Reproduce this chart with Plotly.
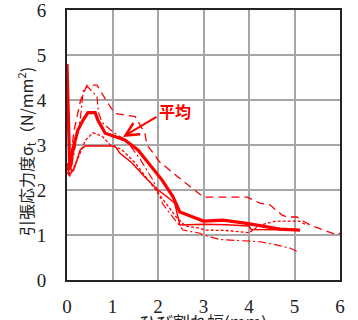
import plotly.graph_objects as go

# Average (thick solid)
avg_x = [0, 0.06, 0.15, 0.24, 0.35, 0.46, 0.62, 0.68, 0.84, 1.27, 1.56, 1.78, 2.09, 2.33, 2.48, 3.0, 3.43, 3.95, 4.3, 4.68, 5.12]
avg_y = [4.8, 2.45, 3.0, 3.33, 3.55, 3.72, 3.72, 3.55, 3.26, 3.11, 2.89, 2.6, 2.22, 1.85, 1.51, 1.31, 1.33, 1.26, 1.2, 1.13, 1.11]

# Specimen A (thin solid)
a_x = [0, 0.06, 0.15, 0.29, 0.4, 0.6, 1.05, 1.16, 1.43, 1.71, 2.0, 2.2, 2.37, 2.48, 3.0, 3.5, 4.0, 4.05, 5.12]
a_y = [2.5, 2.35, 2.45, 2.89, 2.98, 2.98, 2.98, 2.82, 2.6, 2.29, 2.0, 1.85, 1.7, 1.22, 1.24, 1.23, 1.2, 1.12, 1.11]

# Specimen B (long dash, highest)
b_x = [0, 0.05, 0.15, 0.3, 0.44, 0.66, 0.88, 1.05, 1.5, 1.71, 1.76, 2.04, 2.44, 2.92, 3.0, 3.96, 4.24, 4.46, 4.73, 4.84, 5.05, 5.34, 5.93, 6.05]
b_y = [2.6, 2.4, 3.3, 4.0, 4.33, 4.33, 3.96, 3.7, 3.63, 3.26, 3.0, 2.62, 2.29, 1.89, 1.84, 1.84, 1.71, 1.67, 1.44, 1.4, 1.4, 1.22, 1.0, 1.07]

# Specimen C (short dash)
c_x = [0, 0.06, 0.2, 0.4, 0.57, 0.77, 0.95, 1.2, 1.5, 1.8, 2.1, 2.4, 2.6, 2.92, 3.03, 3.5, 4.0, 4.24, 4.6, 5.1, 5.27]
c_y = [2.5, 2.35, 2.6, 3.1, 3.27, 3.2, 3.0, 2.9, 2.6, 2.2, 1.8, 1.4, 1.2, 1.15, 1.11, 1.1, 1.05, 1.22, 1.31, 1.31, 1.22]

# Specimen D (dash-dot)
d_x = [0, 0.06, 0.22, 0.29, 0.36, 0.45, 0.66, 0.69, 0.77, 1.0, 1.3, 1.6, 1.9, 2.1, 2.26, 2.55, 2.92, 3.0, 3.36, 4.24, 4.6, 4.9, 5.07]
d_y = [2.4, 2.3, 3.18, 3.56, 4.22, 4.3, 4.07, 3.73, 3.5, 3.3, 3.1, 2.7, 2.2, 1.7, 1.48, 1.11, 1.04, 1.0, 0.9, 0.85, 0.78, 0.71, 0.63]

x_ticks = [0, 1, 2, 3, 4, 5, 6]
y_ticks = [0, 1, 2, 3, 4, 5, 6]
x_title = "ひび割れ幅(mm)"
y_title = "引張応力度σ<sub>t</sub>（N/mm<sup>2</sup>)"
avg_label = "<b>平均</b>"

RED = "#ff0000"
fig = go.Figure()
for xs, ys, w, dash in [
    (a_x, a_y, 1.5, "solid"),
    (b_x, b_y, 1.3, "8px,5px"),
    (c_x, c_y, 1.3, "3px,2px"),
    (d_x, d_y, 1.2, "8px,3px,2px,3px"),
    (avg_x, avg_y, 3.2, "solid"),
]:
    fig.add_trace(go.Scatter(x=xs, y=ys, mode="lines",
                             line=dict(color=RED, width=w, dash=dash),
                             showlegend=False, hoverinfo="skip"))

serif = "Liberation Serif, DejaVu Serif, serif"
cjk = "Noto Sans CJK JP"
W, H, L, R, T, B = 358, 320, 67, 18, 10, 40
PW, PH = W - L - R, H - T - B
fig.update_layout(
    width=W, height=H,
    margin=dict(l=L, r=R, t=T, b=B),
    paper_bgcolor="white", plot_bgcolor="white",
    font=dict(family=serif, size=18, color="#222"),
    xaxis=dict(range=[0, 6], tickvals=x_ticks, showgrid=True, gridcolor="#a6a6a6", gridwidth=1.5,
               showline=True, linecolor="#222", linewidth=2, mirror=True, zeroline=False,
               ticks="", ticklabelstandoff=8, automargin=False, ticklabeloverflow="allow",
               tickfont=dict(family=serif, size=19, color="#222")),
    yaxis=dict(range=[0, 6], tickvals=y_ticks, showgrid=True, gridcolor="#a6a6a6", gridwidth=1.5,
               showline=True, linecolor="#222", linewidth=2, mirror=True, zeroline=False,
               ticks="", ticklabelstandoff=15, automargin=False, ticklabeloverflow="allow",
               tickfont=dict(family=serif, size=19, color="#222")),
)

fig.add_annotation(x=(203 - L) / PW, y=-(321 - 280) / PH, xref="paper", yref="paper",
                   text=x_title, showarrow=False, xanchor="center", yanchor="middle",
                   font=dict(family=cjk, size=17, color="#222"))
fig.add_annotation(x=-(67 - 26) / PW, y=(280 - 152) / PH, xref="paper", yref="paper",
                   text=y_title, showarrow=False, textangle=-90, xanchor="center", yanchor="middle",
                   font=dict(family=cjk, size=16, color="#222"))
fig.add_annotation(x=1.23, y=3.18, xref="x", yref="y", text="", showarrow=True,
                   arrowhead=5, arrowsize=1.3, arrowwidth=2, arrowcolor=RED,
                   ax=35, ay=-21)
fig.add_annotation(x=(175 - L) / PW, y=(280 - 111) / PH, xref="paper", yref="paper",
                   text=avg_label, showarrow=False,
                   font=dict(family=cjk, size=16, color=RED))

fig.write_html("out.html", config={"displayModeBar": False},
               post_script="document.body.style.margin='0';")
